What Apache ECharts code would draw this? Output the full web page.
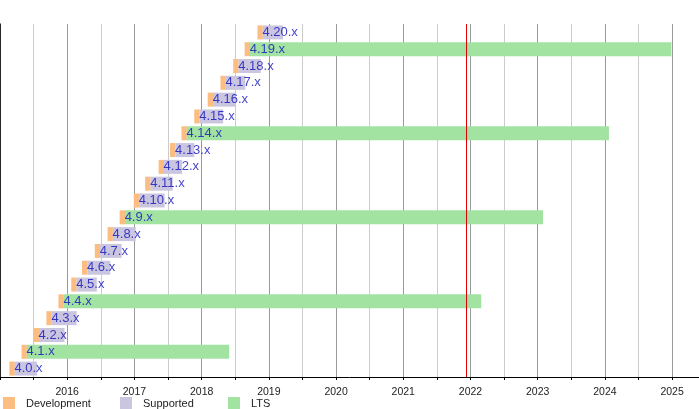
<!DOCTYPE html>
<html>
<head>
<meta charset="utf-8">
<script src="https://cdn.jsdelivr.net/npm/echarts@6/dist/echarts.min.js"></script>
<style>
  html, body { margin: 0; padding: 0; background: #fff; }
  #chart { width: 699px; height: 409px; }
</style>
</head>
<body>
<div id="chart"></div>
<script>
// kernel versions, bottom row first
var versions = ['4.0', '4.1', '4.2', '4.3', '4.4', '4.5', '4.6', '4.7', '4.8', '4.9', '4.10',
  '4.11', '4.12', '4.13', '4.14', '4.15', '4.16', '4.17', '4.18', '4.19', '4.20'];
// start of development (decimal years)
var devStart = [2015.14, 2015.32, 2015.50, 2015.69, 2015.87, 2016.06, 2016.22, 2016.41, 2016.60, 2016.78, 2016.99,
  2017.16, 2017.36, 2017.53, 2017.70, 2017.89, 2018.09, 2018.28, 2018.47, 2018.64, 2018.83];
// release date (end of development)
var release = [2015.22, 2015.40, 2015.58, 2015.77, 2015.95, 2016.14, 2016.30, 2016.49, 2016.68, 2016.86, 2017.07,
  2017.24, 2017.44, 2017.61, 2017.78, 2017.97, 2018.17, 2018.36, 2018.55, 2018.72, 2018.91];
// end of support
var endOfLife = [2015.55, 2018.41, 2015.96, 2016.14, 2022.16, 2016.44, 2016.64, 2016.81, 2017.02, 2023.08, 2017.45,
  2017.57, 2017.71, 2017.89, 2024.06, 2018.32, 2018.50, 2018.65, 2018.88, 2024.99, 2019.21];
// long term support releases
var ltsVersions = ['4.1', '4.4', '4.9', '4.14', '4.19'];
var today = 2021.94;

var colDev = '#fbbd82';
var colSup = '#cbc6e0';
var colLts = '#a2e3a2';
var font = 'Liberation Sans, Arial, Helvetica, sans-serif';

var devData = [], supData = [], ltsData = [], labelData = [];
for (var i = 0; i < versions.length; i++) {
  var isLts = ltsVersions.indexOf(versions[i]) >= 0;
  devData.push(+(release[i] - devStart[i]).toFixed(3));
  supData.push(isLts ? '-' : +(endOfLife[i] - release[i]).toFixed(3));
  ltsData.push(isLts ? +(endOfLife[i] - release[i]).toFixed(3) : '-');
  labelData.push([devStart[i], versions[i]]);
}

var chart = echarts.init(document.getElementById('chart'), null, { renderer: 'canvas' });

function legendAt(name, left) {
  return {
    data: [name], left: left, top: 397, padding: 0, selectedMode: false,
    icon: 'rect', itemWidth: 12, itemHeight: 14, itemGap: 0,
    textStyle: { fontFamily: font, fontSize: 11, color: '#222', padding: [0, 0, 0, 6] }
  };
}

chart.setOption({
  animation: false,
  backgroundColor: '#fff',
  textStyle: { fontFamily: font },
  grid: { left: 0, right: 0, top: 24, bottom: 32, containLabel: false, outerBoundsMode: 'none' },
  legend: [legendAt('Development', 3), legendAt('Supported', 120), legendAt('LTS', 228)],
  xAxis: {
    type: 'value', min: 2015, max: 2025.4, interval: 0.5,
    axisLine: { show: true, lineStyle: { color: '#000', width: 1 } },
    axisTick: { show: true, length: 3, lineStyle: { color: '#000' } },
    axisLabel: {
      margin: 10, fontSize: 10.5, color: '#222', fontFamily: font,
      formatter: function (v) { return (v % 1 === 0 && v > 2015) ? String(v) : ''; }
    },
    splitLine: { show: true, lineStyle: { color: ['#999', '#ccc'], width: 1 } }
  },
  yAxis: {
    type: 'category', data: versions,
    axisLine: { show: true, lineStyle: { color: '#000', width: 1.5 } },
    axisTick: { show: false }, axisLabel: { show: false }, splitLine: { show: false }
  },
  series: [
    { name: 'base', type: 'bar', stack: 'k', barWidth: 14, silent: true,
      itemStyle: { color: 'transparent' }, data: devStart },
    { name: 'Development', type: 'bar', stack: 'k', barWidth: 14,
      itemStyle: { color: colDev }, data: devData },
    { name: 'Supported', type: 'bar', stack: 'k', barWidth: 14,
      itemStyle: { color: colSup }, data: supData },
    { name: 'LTS', type: 'bar', stack: 'k', barWidth: 14,
      itemStyle: { color: colLts }, data: ltsData },
    { name: 'labels', type: 'scatter', symbolSize: 0, silent: true, z: 5,
      label: {
        show: true, position: 'right', distance: 5,
        fontFamily: font, fontSize: 13, color: '#1010bb',
        formatter: function (p) { return p.value[1] + '.x'; }
      },
      data: labelData,
      markLine: {
        silent: true, symbol: 'none', label: { show: false },
        lineStyle: { color: '#e00000', width: 1, type: 'solid' },
        data: [{ xAxis: today }]
      }
    }
  ]
});
window.addEventListener('resize', function () { chart.resize(); });
</script>
</body>
</html>
